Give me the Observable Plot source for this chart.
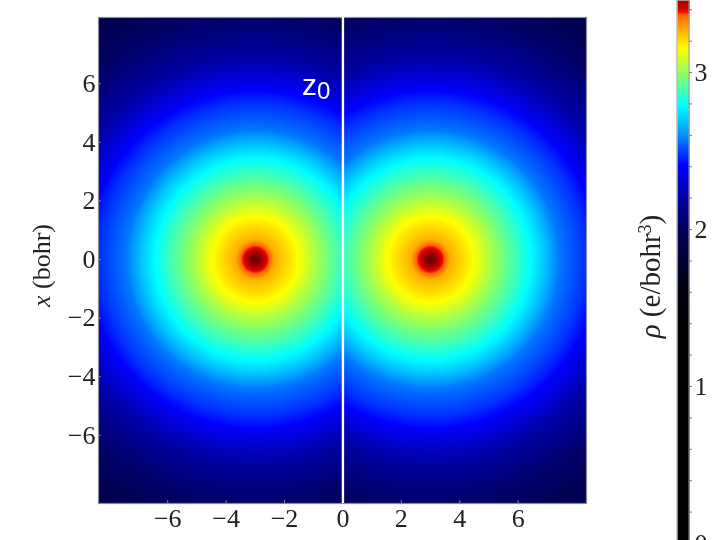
<!DOCTYPE html>
<html>
<head>
<meta charset="utf-8">
<script src="https://cdn.jsdelivr.net/npm/d3@7"></script>
<script src="https://cdn.jsdelivr.net/npm/@observablehq/plot@0.6"></script>
<style>
html,body{margin:0;padding:0;background:#fff;}
#chart{position:relative;width:720px;height:540px;overflow:hidden;}
#chart svg{position:absolute;top:0;background:transparent;filter:blur(0.55px);}
</style>
</head>
<body>
<div id="chart"></div>
<script>
// Density: distance from the nearest atom (bohr) -> rho (e/bohr^3)
const radii     = [0, 0.1, 0.25, 0.43, 0.48, 0.68, 1.47, 2.2, 2.87, 3.43, 3.9, 4.4, 5.36, 5.7, 6.8, 8.3, 9.9, 12];
const densities = [3.58, 3.54, 3.45, 3.385, 3.365, 3.27, 3.153, 3.01, 2.89, 2.79, 2.69, 2.57, 2.47, 2.42, 2.21, 2.03, 1.93, 1.8];
const atomPositions = [-3, 3];

// Colour bar
const colorValues = [0, 1.36, 1.61, 1.96, 2.185, 2.41, 2.6, 2.79, 3.0, 3.153, 3.27, 3.37, 3.382, 3.408, 3.459, 3.6];
const colorHexes  = ["#000000","#000000","#000010","#000050","#0000a0","#0000ff","#0090ff","#00ffff","#90ff60","#ffff00","#ffb000","#ff6000","#ff1000","#d80000","#a00000","#600000"];

const axisTicks = [-6, -4, -2, 0, 2, 4, 6];
const barLabels = [0, 1, 2, 3];
const barMinorTicks = [0.2,0.4,0.6,0.8,1,1.2,1.4,1.6,1.8,2,2.2,2.4,2.6,2.8,3,3.2,3.4];

const serif = "'Liberation Serif','Times New Roman',serif";
const profile = d3.scaleLinear().domain(radii).range(densities).clamp(true);
const colorLookup = d3.scaleLinear().domain(colorValues).range(colorHexes).interpolate(d3.interpolateRgb);
const colorTop = colorValues[colorValues.length - 1];
const colorScale = {type: "linear", domain: [0, colorTop], interpolate: t => colorLookup(t * colorTop)};
const minus = d => String(d).replace("-", "\u2212");

const main = Plot.plot({
  width: 640, height: 540,
  marginLeft: 98, marginRight: 54, marginTop: 17, marginBottom: 37,
  style: {background: "transparent", fontFamily: serif, fontSize: "26px", color: "#222", overflow: "visible"},
  x: {domain: [-8.37, 8.34]},
  y: {domain: [-8.33, 8.26]},
  color: colorScale,
  marks: [
    Plot.raster({
      x1: -8.37, x2: 8.34, y1: -8.33, y2: 8.26, pixelSize: 1,
      fill: (z, x) => profile(Math.min(...atomPositions.map(a => Math.hypot(z - a, x))))
    }),
    Plot.frame({stroke: "#8a8a9a", strokeWidth: 1.2}),
    Plot.ruleX(axisTicks, {y1: -8.33, y2: -8.23, stroke: "#888"}),
    Plot.ruleY(axisTicks, {x1: -8.37, x2: -8.27, stroke: "#888"}),
    Plot.ruleX([0], {stroke: "white", strokeWidth: 2.4}),
    Plot.axisX(axisTicks, {tickSize: 0, tickPadding: 5, tickFormat: minus, label: null, fontSize: 26, fill: "#222"}),
    Plot.axisY(axisTicks, {tickSize: 0, tickPadding: 3, tickFormat: minus, label: null, fontSize: 26, fill: "#222"}),
    Plot.text(["x (bohr)"], {frameAnchor: "left", dx: -57, dy: 5, rotate: -90, textAnchor: "middle", fontSize: 26, fill: "#222", className: "xlabel"}),
    Plot.text(["z0"], {x: -0.92, y: 5.93, fill: "white", fontSize: 30, fontFamily: "'Liberation Sans',sans-serif", className: "zlabel"})
  ]
});

const bar = Plot.plot({
  width: 100, height: 540,
  marginLeft: 57, marginRight: 31, marginTop: 0, marginBottom: 0,
  style: {background: "transparent", fontFamily: serif, fontSize: "26px", color: "#222", overflow: "visible"},
  x: {domain: [0, 1], axis: null},
  y: {domain: [0, 3.459], range: [543, 0]},
  color: colorScale,
  marks: [
    Plot.raster({x1: 0, x2: 1, y1: 0, y2: 3.459, pixelSize: 1, fill: (x, y) => y}),
    Plot.rect([1], {x1: 0, x2: 1, y1: 0, y2: 3.459, stroke: "#999", strokeWidth: 1}),
    Plot.ruleY(barMinorTicks, {x1: 1, x2: 1.25, stroke: "#777"}),
    Plot.axisY(barLabels, {anchor: "right", tickSize: 0, tickPadding: 5, tickFormat: d => String(d), label: null, fontSize: 26, fill: "#222"}),
    Plot.text(["rho (e/bohr3)"], {frameAnchor: "left", dx: -27, dy: 6, rotate: -90, textAnchor: "middle", fontSize: 29, fill: "#222", className: "rholabel"})
  ]
});

function setParts(root, cls, parts) {
  const t = root.querySelector(`.${cls} text`);
  t.textContent = "";
  for (const p of parts) {
    const s = document.createElementNS("http://www.w3.org/2000/svg", "tspan");
    s.textContent = p.text;
    if (p.style) s.setAttribute("font-style", p.style);
    if (p.size) s.setAttribute("font-size", p.size);
    if (p.dy) s.setAttribute("dy", p.dy);
    t.appendChild(s);
  }
}
setParts(main, "xlabel", [{text: "x", style: "italic"}, {text: " (bohr)"}]);
setParts(main, "zlabel", [{text: "z"}, {text: "0", size: 24, dy: 4}]);
setParts(bar, "rholabel", [{text: "\u03c1", style: "italic"}, {text: " (e/bohr"}, {text: "3", size: 18, dy: -9}, {text: ")", dy: 9}]);

main.style.left = "0px";
bar.style.left = "620px";
document.getElementById("chart").append(main, bar);
</script>
</body>
</html>
